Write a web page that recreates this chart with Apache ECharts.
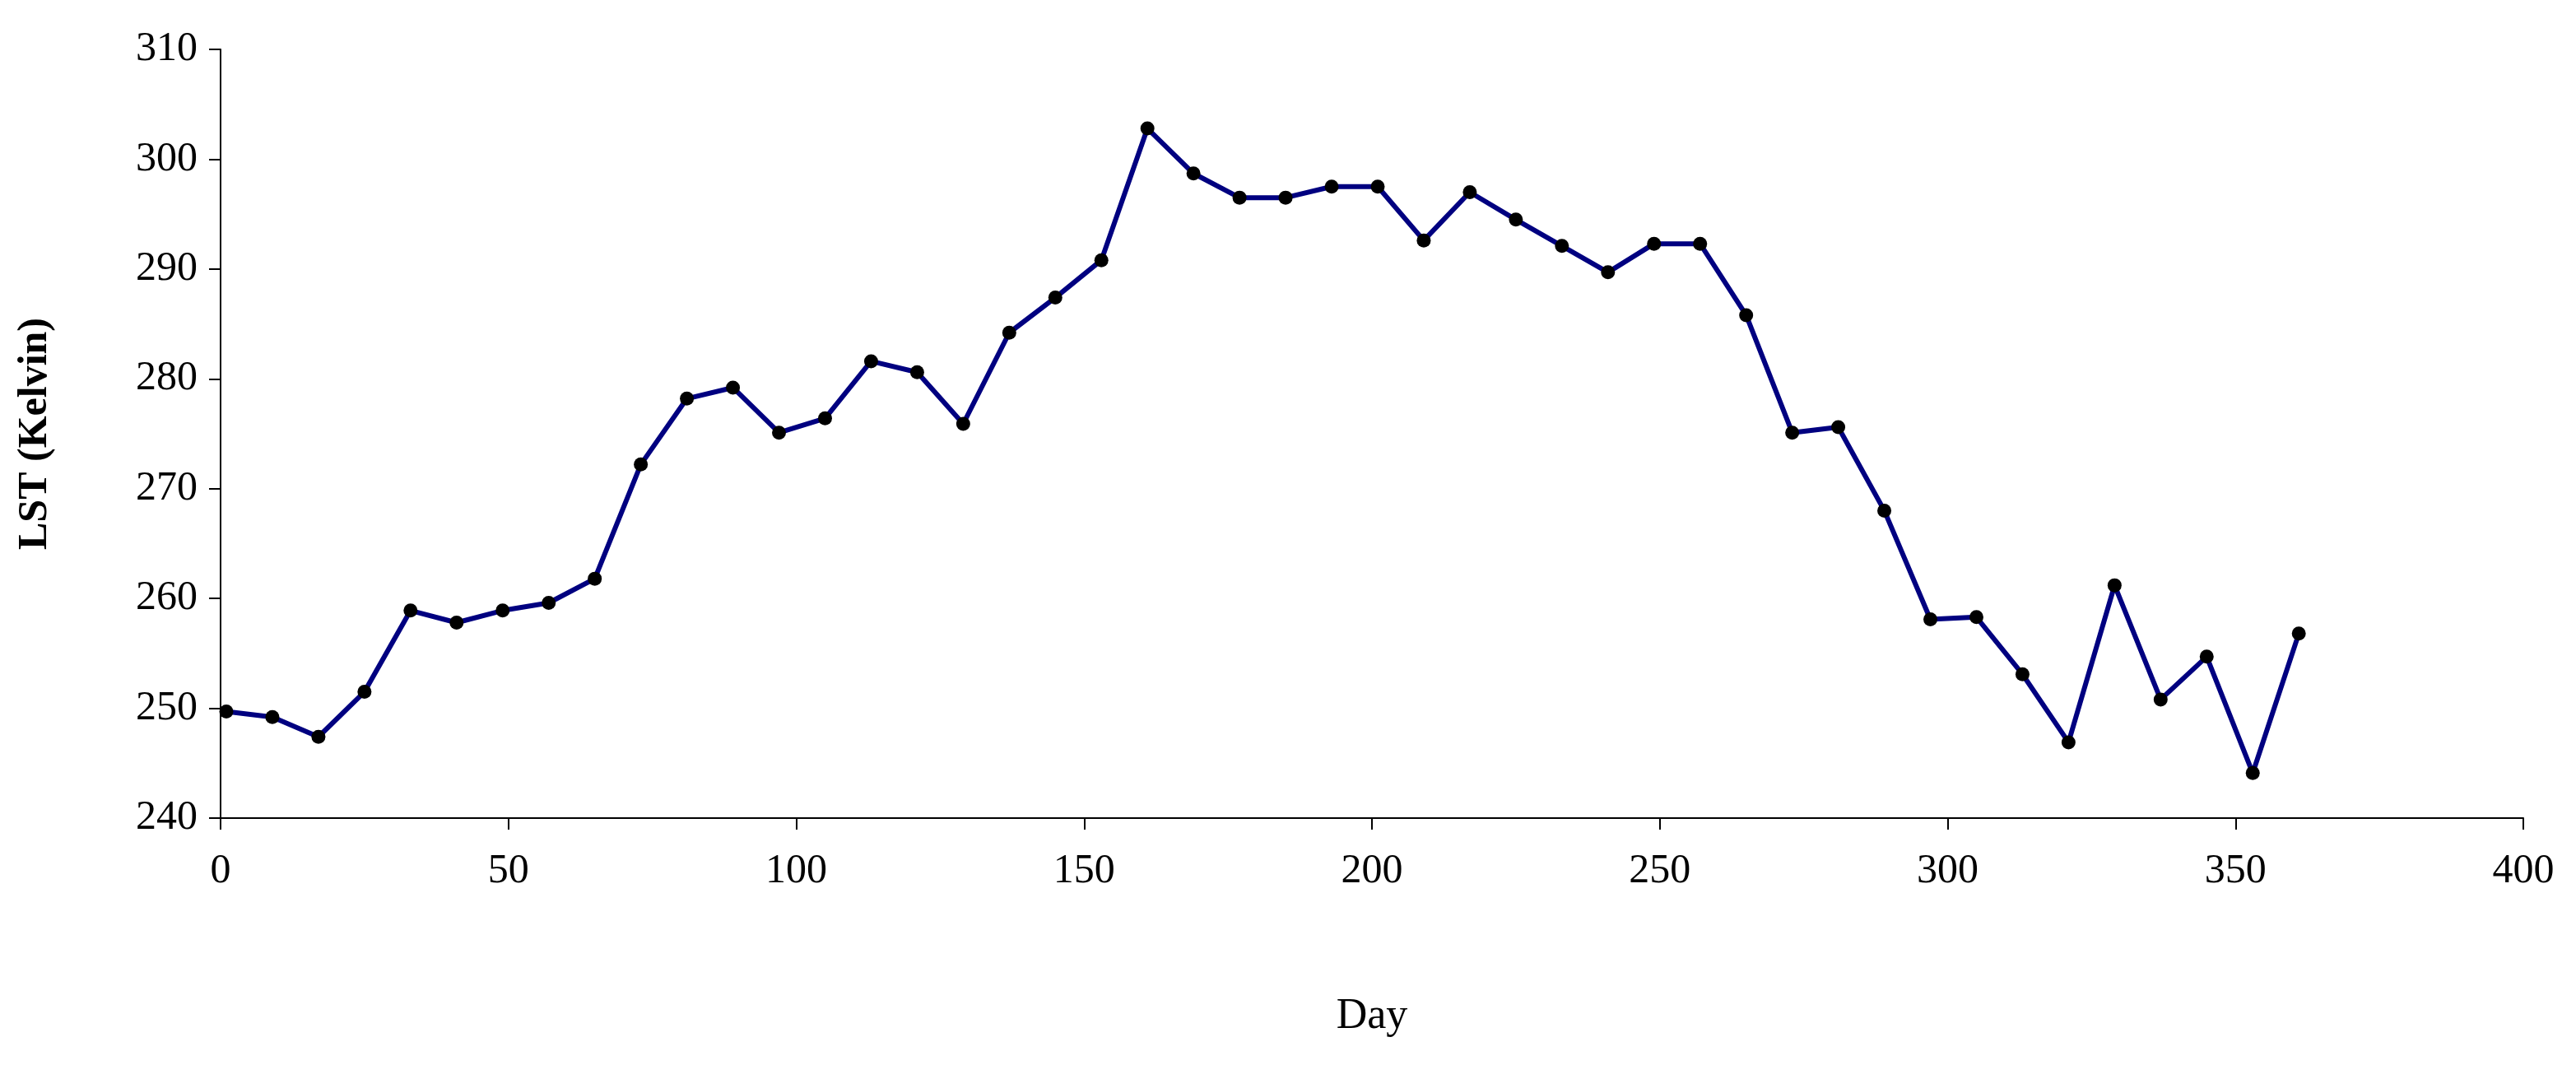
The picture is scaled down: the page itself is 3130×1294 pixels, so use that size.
<!DOCTYPE html>
<html><head><meta charset="utf-8">
<script src="https://cdn.jsdelivr.net/npm/echarts@6/dist/echarts.min.js"></script>
<style>html,body{margin:0;padding:0;background:#fff}#c{width:3130px;height:1294px}</style>
</head><body><div id="c"></div>
<script>
const days = [1,9,17,25,33,41,49,57,65,73,81,89,97,105,113,121,129,137,145,153,161,169,177,185,193,201,209,217,225,233,241,249,257,265,273,281,289,297,305,313,321,329,337,345,353,361];
const lst = [249.7,249.2,247.4,251.5,258.9,257.8,258.9,259.6,261.8,272.2,278.2,279.2,275.1,276.4,281.6,280.6,275.9,284.2,287.4,290.8,302.8,298.7,296.5,296.5,297.5,297.5,292.6,297.0,294.5,292.1,289.7,292.3,292.3,285.8,275.1,275.6,268.0,258.1,258.3,253.1,246.9,261.2,250.8,254.7,244.1,256.8];
const font = "Liberation Serif";
const chart = echarts.init(document.getElementById('c'));
chart.setOption({
  animation:false,
  grid:{left:268,right:64,top:60,bottom:300},
  xAxis:{type:'value',min:0,max:400,interval:50,name:'Day',nameLocation:'middle',nameGap:215,
    nameTextStyle:{fontFamily:font,fontSize:52,color:'#000'},
    axisLine:{lineStyle:{color:'#000',width:2}},axisTick:{length:14,lineStyle:{color:'#000',width:2}},
    axisLabel:{fontFamily:font,fontSize:50,color:'#000',margin:40},splitLine:{show:false}},
  yAxis:{type:'value',min:240,max:310,interval:10,name:'LST (Kelvin)',nameLocation:'middle',nameGap:200,
    nameTextStyle:{fontFamily:font,fontSize:50,fontWeight:'bold',color:'#000'},
    axisLine:{show:true,lineStyle:{color:'#000',width:2}},axisTick:{show:true,length:14,lineStyle:{color:'#000',width:2}},
    axisLabel:{fontFamily:font,fontSize:50,color:'#000',margin:28},splitLine:{show:false}},
  series:[{type:'line',data:days.map((d,i)=>[d,lst[i]]),symbol:'circle',symbolSize:17,
    lineStyle:{color:'#000080',width:6},itemStyle:{color:'#000'}}]
});
</script></body></html>
